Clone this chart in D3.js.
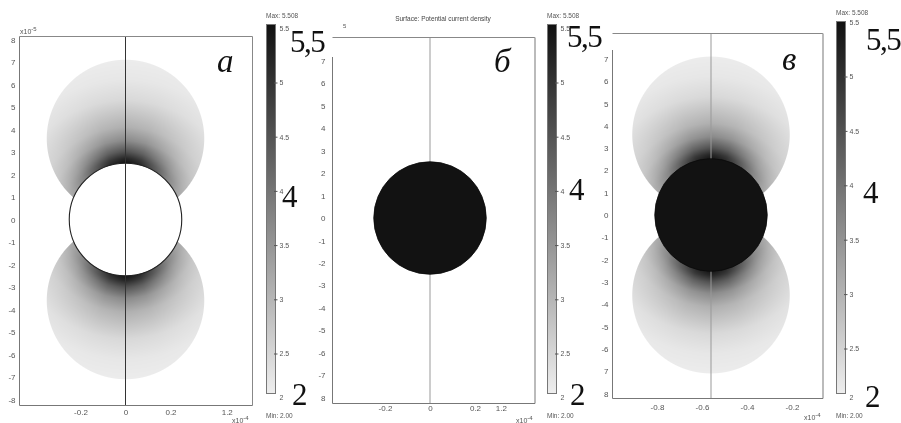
<!DOCTYPE html>
<html><head><meta charset="utf-8">
<script src="https://cdn.jsdelivr.net/npm/d3@7"></script>
<style>
body{margin:0;background:#fff;}
#wrap{position:relative;width:901px;height:423px;overflow:hidden;background:#fff;}
#wrap canvas,#wrap svg{position:absolute;left:0;top:0;}
</style></head><body><div id="wrap"></div>
<script>
// ---- data -------------------------------------------------------------
// y ticks (units of 1e-5 m) and the labels printed next to them
const yTickValuesA = d3.range(8, -9, -1);
const yLabelsA = ["8","7","6","5","4","3","2","1","0","-1","-2","-3","-4","-5","-6","-7","-8"];
const yTickValuesBC = d3.range(7, -9, -1);
const yLabelsB = ["7","6","5","4","3","2","1","0","-1","-2","-3","-4","-5","-6","-7","8"];
const yLabelsC = ["7","6","5","4","3","2","1","0","-1","-2","-3","-4","-5","-6","7","8"];
// x ticks (units of 1e-4 m)
const xTickValuesA = [-0.2, 0, 0.2, 0.45];
const xTickValuesB = [-0.2, 0, 0.2, 0.315];
const xLabelsAB = ["-0.2", "0", "0.2", "1.2"];
const xTickValuesC = [-0.8, -0.6, -0.4, -0.2];
const xLabelsC = ["-0.8", "-0.6", "-0.4", "-0.2"];
// colour range of the surface plot
const valueMin = 2.00, valueMax = 5.508;
const barTicks = [5.5, 5, 4.5, 4, 3.5, 3, 2.5, 2];
const barTickLabels = ["5.5", "5", "4.5", "4", "3.5", "3", "2.5", "2"];
const bigLabels = ["5,5", "4", "2"];
// geometry (1e-5 m): electrode radius, lobe centre offset and lobe radius
const electrodeR = 2.5, lobeOffset = 3.6, lobeR = 3.5;
// current density profile: distance from electrode surface -> value
const fieldDist  = [0, 0.2, 0.5, 1.0, 1.6, 2.8, 3.7, 4.6];
const fieldValue = [5.5, 5.2, 4.5, 3.6, 3.0, 2.35, 2.12, 2.03];
// angular weight away from the electrode pole (degrees)
const fieldAngle  = [0, 15, 30, 45, 60, 75, 90];
const fieldWeight = [1, 0.9, 0.7, 0.5, 0.36, 0.26, 0.2];

// ---- panels -------------------------------------------------------------
const panels = [
  { key: "a", cx0: 0, cxPx: 125.5, y: [399.5, 39.5], field: true, electrode: "hole",
    frame: {l: 19.5, r: 252.5, t: 36.5, b: 405.5, leftTop: 36.5},
    yVals: yTickValuesA, yLabels: yLabelsA, yPad: 4,
    xVals: xTickValuesA, xLabels: xLabelsAB, xPad: 4,
    lineColor: "#333", letter: "а", letterPos: [217, 72],
    expY: {x: 20, y: 34, txt: "x10", sup: "-5"}, expX: {x: 232, y: 423},
    bar: {x: 266, t: 24, b: 393, lab5: 83, lab25: 354, twoY: 398},
    maxTxt: "Max: 5.508", big: [[290, 52], [282, 207], [292, 405]] },
  { key: "b", cx0: 0, cxPx: 430, y: [397.5, 38.5], field: false, electrode: "solid",
    frame: {l: 332.5, r: 535, t: 37.5, b: 403.5, leftTop: 57},
    yVals: yTickValuesBC, yLabels: yLabelsB, yPad: 7,
    xVals: xTickValuesB, xLabels: xLabelsAB, xPad: 1.5,
    lineColor: "#999", letter: "б", letterPos: [494, 72],
    expY: {x: 343, y: 31, txt: "", sup: "5"}, expX: {x: 516, y: 423},
    bar: {x: 547, t: 24, b: 393, lab5: 83, lab25: 354, twoY: 398},
    maxTxt: "Max: 5.508", big: [[567, 47], [569, 200], [570, 405]] },
  { key: "c", cx0: -0.56, cxPx: 711, y: [393.5, 36.5], field: true, electrode: "solid",
    frame: {l: 612.5, r: 823, t: 33.5, b: 398.5, leftTop: 50},
    yVals: yTickValuesBC, yLabels: yLabelsC, yPad: 4,
    xVals: xTickValuesC, xLabels: xLabelsC, xPad: 5.5,
    lineColor: "#999", letter: "в", letterPos: [782, 70],
    expY: null, expX: {x: 804, y: 420},
    bar: {x: 836, t: 21, b: 393, lab5: 77, lab25: 349, twoY: 398},
    maxTxt: "Max: 5.508", big: [[866, 50], [863, 203], [865, 407]] }
];

const pxPerUnit = 22.5;
panels.forEach(p => {
  // x scale in units of 1e-5 m
  p.x = d3.scaleLinear().domain([p.cx0 * 10, p.cx0 * 10 + 1]).range([p.cxPx, p.cxPx + pxPerUnit]);
  p.yS = d3.scaleLinear().domain([-8, 8]).range(p.y);
});

const color = d3.scaleLinear().domain([valueMin, valueMax]).range(["#eeeeee", "#111111"]).clamp(true);
const radial = d3.scaleLinear().domain(fieldDist).range(fieldValue).clamp(true);
const angular = d3.scaleLinear().domain(fieldAngle).range(fieldWeight).clamp(true);

function fieldAt(u, v) {
  const r = Math.hypot(u, v);
  const d = Math.max(0, r - electrodeR);
  const th = Math.atan2(Math.abs(u), Math.abs(v)) * 180 / Math.PI;
  return 2 + (radial(d) - 2) * angular(th);
}

const wrap = d3.select("#wrap");
const canvas = wrap.append("canvas").attr("width", 901).attr("height", 423).node();
const ctx = canvas.getContext("2d");
ctx.fillStyle = "#fff"; ctx.fillRect(0, 0, 901, 423);

// ---- surface field, rasterised pixel by pixel --------------------------
panels.filter(p => p.field).forEach(p => {
  const c0 = p.cx0 * 10;
  const x0 = Math.floor(p.x(c0 - lobeR)) - 2, x1 = Math.ceil(p.x(c0 + lobeR)) + 2;
  const y0 = Math.floor(p.yS(lobeOffset + lobeR)) - 2, y1 = Math.ceil(p.yS(-lobeOffset - lobeR)) + 2;
  const img = ctx.getImageData(x0, y0, x1 - x0, y1 - y0);
  const k = Math.abs(p.yS(1) - p.yS(0));
  for (let py = y0; py < y1; py++) {
    for (let px = x0; px < x1; px++) {
      const u = p.x.invert(px + 0.5) - c0;
      const v = p.yS.invert(py + 0.5);
      const dl = Math.hypot(u, Math.abs(v) - lobeOffset);
      const cover = Math.max(0, Math.min(1, (lobeR - dl) * k + 0.5));
      if (cover <= 0) continue;
      const val = fieldAt(u, v);
      const c = d3.rgb(color(val));
      const i = ((py - y0) * (x1 - x0) + (px - x0)) * 4;
      img.data[i]     = c.r * cover + 255 * (1 - cover);
      img.data[i + 1] = c.g * cover + 255 * (1 - cover);
      img.data[i + 2] = c.b * cover + 255 * (1 - cover);
      img.data[i + 3] = 255;
    }
  }
  ctx.putImageData(img, x0, y0);
});

// ---- vector layer ------------------------------------------------------
const svg = wrap.append("svg").attr("width", 901).attr("height", 423);
const tickFont = "Liberation Sans, Arial, sans-serif";
const serif = "Liberation Serif, Times New Roman, serif";

const defs = svg.append("defs");
const grad = defs.append("linearGradient").attr("id", "cbar")
  .attr("x1", 0).attr("y1", 1).attr("x2", 0).attr("y2", 0);
d3.range(0, 1.0001, 0.1).forEach(t => {
  grad.append("stop").attr("offset", t).attr("stop-color", color(valueMin + t * (valueMax - valueMin)));
});

panels.forEach(p => {
  const g = svg.append("g");
  const f = p.frame;
  const c0 = p.cx0 * 10;

  // centre line (drawn over the field)
  g.append("line").attr("x1", p.x(c0)).attr("x2", p.x(c0))
    .attr("y1", f.t).attr("y2", f.b).attr("stroke", p.lineColor).attr("stroke-width", 1);

  // electrode
  const circ = g.append("circle").attr("cx", p.x(c0)).attr("cy", p.yS(0))
    .attr("r", p.x(c0 + electrodeR) - p.x(c0));
  if (p.electrode === "hole") {
    circ.attr("fill", "#fff").attr("stroke", "#222").attr("stroke-width", 1.1);
    g.append("line").attr("x1", p.x(c0)).attr("x2", p.x(c0))
      .attr("y1", p.yS(electrodeR)).attr("y2", p.yS(-electrodeR)).attr("stroke", p.lineColor);
  } else {
    circ.attr("fill", color(5.5)).attr("stroke", "#0a0a0a").attr("stroke-width", 0.8);
  }

  // frame
  g.append("line").attr("x1", f.l).attr("x2", f.r).attr("y1", f.t).attr("y2", f.t).attr("stroke", "#888");
  g.append("line").attr("x1", f.r).attr("x2", f.r).attr("y1", f.t).attr("y2", f.b)
    .attr("stroke", p.key === "a" ? "#888" : "#aaa").attr("stroke-width", p.key === "a" ? 1 : 1.6);
  g.append("line").attr("x1", f.l).attr("x2", f.l).attr("y1", f.leftTop).attr("y2", f.b).attr("stroke", "#777");
  g.append("line").attr("x1", f.l).attr("x2", f.r).attr("y1", f.b).attr("y2", f.b).attr("stroke", "#777");

  // axes
  const ya = g.append("g").attr("transform", `translate(${f.l},0)`)
    .call(d3.axisLeft(p.yS).tickValues(p.yVals).tickFormat((d, i) => p.yLabels[i]).tickSize(0).tickPadding(p.yPad));
  const xa = g.append("g").attr("transform", `translate(0,${f.b})`)
    .call(d3.axisBottom(p.x).tickValues(p.xVals.map(d => d * 10)).tickFormat((d, i) => p.xLabels[i]).tickSize(0).tickPadding(p.xPad));
  [ya, xa].forEach(a => {
    a.select(".domain").remove();
    a.selectAll("text").attr("font-family", tickFont).attr("font-size", 8).attr("fill", "#555");
  });

  // exponent labels
  if (p.expY) {
    const t = g.append("text").attr("x", p.expY.x).attr("y", p.expY.y)
      .attr("font-family", tickFont).attr("font-size", 7).attr("fill", "#555").text(p.expY.txt);
    t.append("tspan").attr("dy", -3).attr("font-size", 6).text(p.expY.sup);
  }
  const tx = g.append("text").attr("x", p.expX.x).attr("y", p.expX.y)
    .attr("font-family", tickFont).attr("font-size", 7).attr("fill", "#555").text("x10");
  tx.append("tspan").attr("dy", -3).attr("font-size", 6).text("-4");

  // panel letter
  g.append("text").attr("x", p.letterPos[0]).attr("y", p.letterPos[1])
    .attr("font-family", serif).attr("font-style", "italic").attr("font-size", 33)
    .attr("fill", "#111").text(p.letter);

  // colour bar
  const b = p.bar;
  const cb = g.append("g");
  cb.append("rect").attr("x", b.x + 0.5).attr("y", b.t + 0.5).attr("width", 9).attr("height", b.b - b.t)
    .attr("fill", "url(#cbar)").attr("stroke", "#777").attr("stroke-width", 1);
  const ts = d3.scaleLinear().domain([2.5, 5]).range([b.lab25, b.lab5]);
  barTicks.forEach((v, i) => {
    const yy = v === 2 ? b.twoY : ts(v);
    if (v !== 2 && v !== 5.5) {
      cb.append("line").attr("x1", b.x + 8).attr("x2", b.x + 11.5).attr("y1", yy).attr("y2", yy).attr("stroke", "#555");
    }
    cb.append("text").attr("x", b.x + 13.5).attr("y", yy).attr("dy", "0.35em")
      .attr("font-family", tickFont).attr("font-size", 7).attr("fill", "#555").text(barTickLabels[i]);
  });
  cb.append("text").attr("x", b.x).attr("y", b.t - 6).attr("font-family", tickFont)
    .attr("font-size", 6.5).attr("fill", "#555").text(p.maxTxt);
  cb.append("text").attr("x", b.x).attr("y", 418).attr("font-family", tickFont)
    .attr("font-size", 6.5).attr("fill", "#555").text("Min: 2.00");

  // large value annotations beside the bar
  bigLabels.forEach((s, i) => {
    g.append("text").attr("x", p.big[i][0]).attr("y", p.big[i][1])
      .attr("font-family", serif).attr("font-size", 31).attr("fill", "#111")
      .attr("letter-spacing", s.length > 1 ? -1.5 : 0).text(s);
  });
});

// plot title over the middle panel
svg.append("text").attr("x", 443).attr("y", 21).attr("text-anchor", "middle")
  .attr("font-family", tickFont).attr("font-size", 6.5).attr("fill", "#444")
  .text("Surface: Potential current density");
</script></body></html>
